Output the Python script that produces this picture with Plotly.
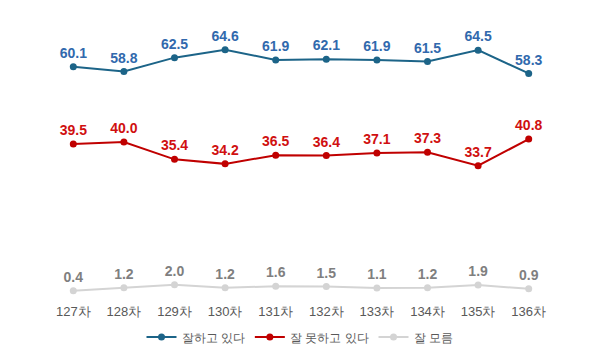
import plotly.graph_objects as go

categories = ["127차", "128차", "129차", "130차", "131차", "132차", "133차", "134차", "135차", "136차"]
good = [60.1, 58.8, 62.5, 64.6, 61.9, 62.1, 61.9, 61.5, 64.5, 58.3]
bad = [39.5, 40.0, 35.4, 34.2, 36.5, 36.4, 37.1, 37.3, 33.7, 40.8]
unknown = [0.4, 1.2, 2.0, 1.2, 1.6, 1.5, 1.1, 1.2, 1.9, 0.9]
names = ["잘하고 있다", "잘 못하고 있다", "잘 모름"]

series = [
    (names[0], good, "#1c6488", "#3169ad"),
    (names[1], bad, "#c00000", "#d01010"),
    (names[2], unknown, "#d4d4d4", "#7f7f7f"),
]

fig = go.Figure()
for name, vals, lc, tc in series:
    fig.add_trace(go.Scatter(
        x=categories, y=vals, name=name, mode="lines+markers+text",
        line=dict(color=lc, width=2),
        marker=dict(color=lc, size=7),
        text=[f"{v:.1f}" for v in vals],
        textposition="top center",
        textfont=dict(family="Liberation Sans, Arial, sans-serif", size=14, color=tc, weight="bold"),
        cliponaxis=False,
    ))

fig.update_layout(
    width=600, height=353,
    margin=dict(l=48, r=46, t=37, b=57, autoexpand=False),
    plot_bgcolor="white", paper_bgcolor="white",
    showlegend=True,
    legend=dict(orientation="h", x=0.5, xanchor="center", xref="container",
                y=0.045, yanchor="middle", yref="container",
                font=dict(family="Liberation Sans, Arial, sans-serif", size=12, color="#595959"),
                itemwidth=30, tracegroupgap=0),
    xaxis=dict(type="category", range=[-0.5, 9.5], showgrid=False, showline=False, zeroline=False,
               ticks="", tickfont=dict(family="Liberation Sans, Arial, sans-serif", size=13, color="#595959"),
               ticklabelstandoff=6),
    yaxis=dict(range=[-1, 68], visible=False),
)

fig.write_html("out.html")
